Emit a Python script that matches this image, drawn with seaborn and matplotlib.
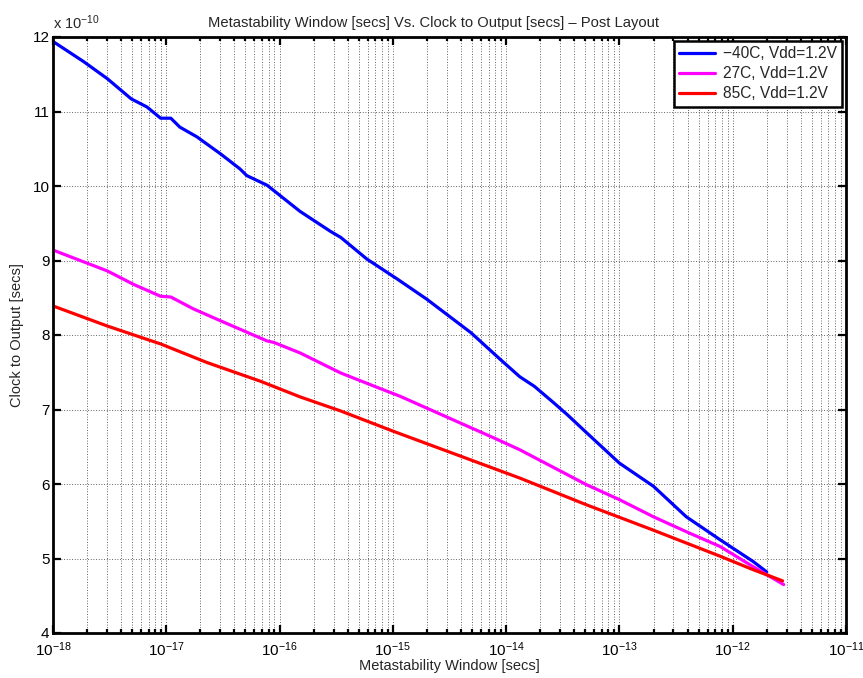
import numpy as np
import pandas as pd
import matplotlib
matplotlib.use("Agg")
import matplotlib.pyplot as plt
import seaborn as sns
from matplotlib.ticker import LogLocator, NullFormatter, FixedLocator

# Series labels and colours
series_labels = ["\u221240C, Vdd=1.2V", "27C, Vdd=1.2V", "85C, Vdd=1.2V"]
series_colors = ["#0000ff", "#ff00ff", "#ff0000"]

# log10 of the metastability window [s] and clock-to-output delay [x 1e-10 s]
cold_window_exp = [-18.00, -17.73, -17.52, -17.31, -17.17, -17.05, -16.96, -16.88,
                   -16.73, -16.52, -16.35, -16.29, -16.11, -15.82, -15.55, -15.46,
                   -15.23, -14.96, -14.70, -14.31, -14.05, -13.88, -13.75, -13.58,
                   -13.46, -13.27, -13.00, -12.70, -12.41, -12.11, -11.82, -11.70]
cold_clk_to_q = [11.94, 11.67, 11.44, 11.17, 11.06, 10.91, 10.91, 10.79,
                 10.66, 10.43, 10.23, 10.14, 10.01, 9.66, 9.39, 9.31,
                 9.02, 8.75, 8.48, 8.03, 7.67, 7.44, 7.31, 7.09,
                 6.93, 6.66, 6.28, 5.97, 5.56, 5.25, 4.96, 4.82]

room_window_exp = [-18.00, -17.52, -17.29, -17.05, -16.96, -16.76, -16.52, -16.11,
                   -16.05, -15.82, -15.46, -15.11, -14.94, -14.11, -13.88, -13.29,
                   -13.00, -12.70, -12.41, -12.11, -11.82, -11.55]
room_clk_to_q = [9.14, 8.86, 8.68, 8.52, 8.51, 8.35, 8.19, 7.92,
                 7.90, 7.76, 7.49, 7.28, 7.18, 6.62, 6.46, 5.99,
                 5.79, 5.56, 5.36, 5.16, 4.89, 4.65]

hot_window_exp = [-18.00, -17.52, -17.05, -16.64, -16.17, -15.82, -15.46, -15.00,
                  -13.88, -13.29, -12.70, -12.11, -11.82, -11.56]
hot_clk_to_q = [8.39, 8.12, 7.88, 7.63, 7.38, 7.17, 6.98, 6.71,
                6.08, 5.72, 5.38, 5.03, 4.85, 4.70]

frames = []
for label, wexp, cq in [(series_labels[0], cold_window_exp, cold_clk_to_q),
                        (series_labels[1], room_window_exp, room_clk_to_q),
                        (series_labels[2], hot_window_exp, hot_clk_to_q)]:
    frames.append(pd.DataFrame({
        "window": 10.0 ** np.asarray(wexp),
        "clk_to_q": cq,
        "corner": label,
    }))
df = pd.concat(frames, ignore_index=True)

sns.set_theme(style="white")
plt.rcParams["font.family"] = ["Liberation Sans", "DejaVu Sans"]
plt.rcParams["mathtext.fontset"] = "custom"
plt.rcParams["mathtext.rm"] = "Liberation Sans"
plt.rcParams["mathtext.it"] = "Liberation Sans:italic"
plt.rcParams["mathtext.bf"] = "Liberation Sans:bold"

W, H = 863, 678
fig = plt.figure(figsize=(W / 100, H / 100), dpi=100)
left, right, top, bottom = 53, 846, 37, 633
ax = fig.add_axes([left / W, 1 - bottom / H, (right - left) / W, (bottom - top) / H])

sns.lineplot(data=df, x="window", y="clk_to_q", hue="corner",
             hue_order=series_labels,
             palette=dict(zip(series_labels, series_colors)),
             estimator=None, sort=False, linewidth=2.3, ax=ax)

ax.set_xscale("log")
ax.set_xlim(1e-18, 1e-11)
ax.set_ylim(4, 12)
ax.yaxis.set_major_locator(FixedLocator(np.arange(4, 13)))
ax.xaxis.set_major_locator(LogLocator(base=10, numticks=20))
ax.xaxis.set_minor_locator(LogLocator(base=10, subs=np.arange(2, 10), numticks=100))
ax.xaxis.set_minor_formatter(NullFormatter())

grid_style = dict(color="0.2", linestyle=(0, (1, 2.2)), linewidth=0.6)
ax.grid(True, which="major", axis="both", **grid_style)
ax.grid(True, which="minor", axis="x", **grid_style)

for s in ax.spines.values():
    s.set_visible(True)
    s.set_color("black")
    s.set_linewidth(2.0)

ax.tick_params(which="both", direction="in", top=True, right=True,
               bottom=True, left=True, color="black", width=1.6,
               labelsize=11, labelcolor="black")
ax.tick_params(which="major", length=5.5)
ax.tick_params(which="minor", length=2.8)
ax.tick_params(axis="x", which="major", pad=5)
ax.tick_params(axis="y", which="major", pad=2.5)

ax.set_title("Metastability Window [secs] Vs. Clock to Output [secs] \u2013 Post Layout",
             fontsize=10.6, pad=7, x=0.48)
ax.set_xlabel("Metastability Window [secs]", fontsize=10.5, labelpad=0)
ax.set_ylabel("Clock to Output [secs]", fontsize=10.5, labelpad=6)
ax.text(0.0, 1.008, r"x 10$^{-10}$", transform=ax.transAxes,
        ha="left", va="bottom", fontsize=10.5)

handles, labels = ax.get_legend_handles_labels()
leg = ax.legend(handles, labels, loc="upper right", frameon=True, fancybox=False,
                edgecolor="black", framealpha=1, borderaxespad=0.25,
                handlelength=2.3, labelspacing=0.32, borderpad=0.35,
                handletextpad=0.5, fontsize=11.2)
leg.get_frame().set_linewidth(1.8)
for line in leg.get_lines():
    line.set_linewidth(2.3)

fig.savefig("out.png", dpi=100)
